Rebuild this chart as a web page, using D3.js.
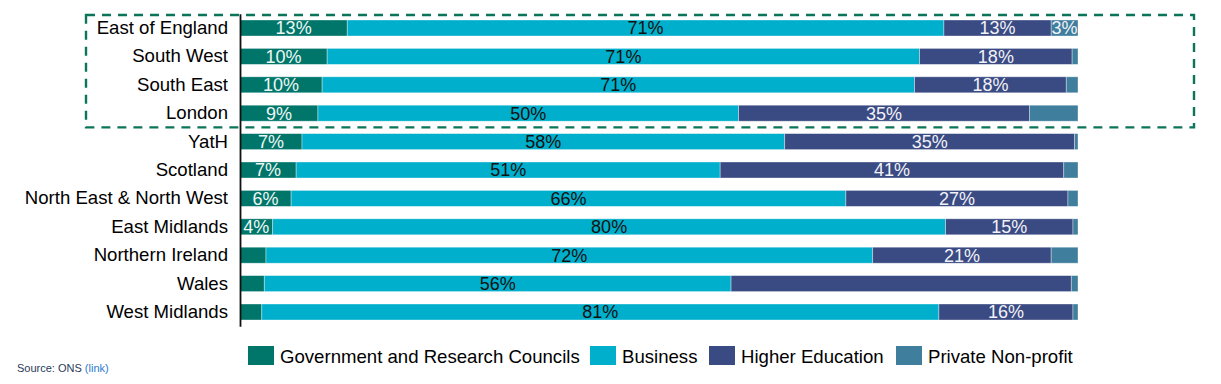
<!DOCTYPE html>
<html>
<head>
<meta charset="utf-8">
<script src="https://cdn.jsdelivr.net/npm/d3@7"></script>
<style>
  body { margin: 0; background: #fff; }
  svg { display: block; font-family: "Liberation Sans", Arial, sans-serif; }
</style>
</head>
<body>
<svg width="1221" height="384"></svg>
<script>
var svg = d3.select('svg');

// regions, top to bottom
var regions = ["East of England", "South West", "South East", "London", "YatH", "Scotland",
  "North East & North West", "East Midlands", "Northern Ireland", "Wales", "West Midlands"];

var seriesNames = ["Government and Research Councils", "Business", "Higher Education", "Private Non-profit"];
var colors = ["#00766b", "#00afcb", "#3a4a82", "#3f7e9c"];
var labelColors = ["#eef6f4", "#111", "#f2f2f8", "#f2f2f8"];

// share of R&D funding (%)
var gov      = [12.8, 10.4, 9.8, 9.3, 7.4, 6.7, 6.1, 3.9, 3.1, 2.9, 2.6];
var business = [71.2, 70.7, 70.7, 50.2, 57.6, 50.6, 66.2, 80.3, 72.4, 55.7, 80.8];
var higherEd = [12.8, 18.2, 18.1, 34.7, 34.6, 41.0, 26.5, 15.2, 21.3, 40.6, 16.0];
var privNP   = [3.2, 0.7, 1.4, 5.8, 0.4, 1.7, 1.2, 0.6, 3.2, 0.8, 0.6];

// printed labels (blank = not shown)
var govLabels = ["13%", "10%", "10%", "9%", "7%", "7%", "6%", "4%", "", "", ""];
var busLabels = ["71%", "71%", "71%", "50%", "58%", "51%", "66%", "80%", "72%", "56%", "81%"];
var heLabels  = ["13%", "18%", "18%", "35%", "35%", "41%", "27%", "15%", "21%", "", "16%"];
var pnpLabels = ["3%", "", "", "", "", "", "", "", "", "", ""];

var allValues = [gov, business, higherEd, privNP];
var allLabels = [govLabels, busLabels, heLabels, pnpLabels];

var x = d3.scaleLinear().domain([0, 100]).range([240, 1078]);
var y = d3.scaleBand().domain(regions).range([13.8, 326.2])
  .paddingInner(0.437).paddingOuter(0.2185);

// build segments
var segs = [];
regions.forEach(function(r, i) {
  var start = 0;
  for (var s = 0; s < 4; s++) {
    var v = allValues[s][i];
    segs.push({region: r, s: s, x0: start, x1: start + v, label: allLabels[s][i]});
    start += v;
  }
});

svg.append('g').selectAll('rect')
  .data(segs)
  .enter()
  .append('rect')
  .attr('x', function(d) { return x(d.x0); })
  .attr('width', function(d) { return x(d.x1) - x(d.x0); })
  .attr('y', function(d) { return y(d.region); })
  .attr('height', y.bandwidth())
  .attr('fill', function(d) { return colors[d.s]; })
  .attr('stroke', 'rgba(255,255,255,0.45)')
  .attr('stroke-width', 0.8);

svg.append('g').selectAll('text')
  .data(segs.filter(function(d) { return d.label !== ""; }))
  .enter()
  .append('text')
  .attr('x', function(d) { return (x(d.x0) + x(d.x1)) / 2; })
  .attr('y', function(d) { return y(d.region) + y.bandwidth() / 2; })
  .attr('dy', '0.36em')
  .attr('text-anchor', 'middle')
  .attr('font-size', 18)
  .attr('fill', function(d) { return labelColors[d.s]; })
  .text(function(d) { return d.label; });

// category axis
var axis = svg.append('g')
  .attr('transform', 'translate(240,0)')
  .call(d3.axisLeft(y).tickSize(0).tickPadding(12));
axis.select('.domain').attr('stroke', '#111').attr('stroke-width', 1.8);
axis.selectAll('text').attr('font-size', 18.6).attr('fill', '#000')
  .attr('font-family', '"Liberation Sans", Arial, sans-serif');

// dashed highlight around the southern regions
var boxTop = y("East of England") - 5;
var boxBottom = (y("London") + y.bandwidth() + y("YatH")) / 2;
svg.append('rect')
  .attr('x', 86).attr('y', boxTop)
  .attr('width', 1194 - 86).attr('height', boxBottom - boxTop)
  .attr('fill', 'none')
  .attr('stroke', '#0a7558')
  .attr('stroke-width', 2.4)
  .attr('stroke-dasharray', '9,7');

// legend
var legendX = [248, 590, 709, 896];
var legend = svg.append('g').selectAll('g')
  .data(seriesNames)
  .enter()
  .append('g')
  .attr('transform', function(d, i) { return 'translate(' + legendX[i] + ',346)'; });
legend.append('rect')
  .attr('width', 26).attr('height', 19)
  .attr('fill', function(d, i) { return colors[i]; });
legend.append('text')
  .attr('x', 32).attr('y', 16.5)
  .attr('font-size', 18.6)
  .attr('fill', '#000')
  .text(function(d) { return d; });

// source note
var src = svg.append('text').attr('x', 17).attr('y', 372).attr('font-size', 11).attr('fill', '#2a3a5a');
src.append('tspan').text('Source: ONS ');
src.append('tspan').attr('fill', '#2a7ad0').text('(link)');
</script>
</body>
</html>
